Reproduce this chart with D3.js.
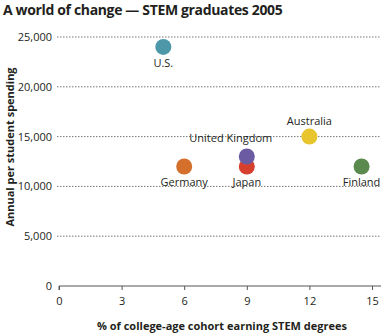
<!DOCTYPE html>
<html>
<head>
<meta charset="utf-8">
<script src="https://cdn.jsdelivr.net/npm/d3@7"></script>
<style>
  body { margin: 0; background: #fff; }
  svg text { font-family: "Open Sans", "Noto Sans", sans-serif; fill: #231f20; }
</style>
</head>
<body>
<div id="chart"></div>
<script>
// Data
const countries = ['U.S.', 'Germany', 'Japan', 'United Kingdom', 'Australia', 'Finland'];
const stemShare = [5, 6, 9, 9, 12, 14.5];
const spending = [24000, 12000, 12000, 13000, 15000, 12000];
const colors = ['#4d98a8', '#d4702c', '#d8402e', '#6b5ba3', '#e8c52c', '#5b8a4e'];
const labelSide = ['below', 'below', 'below', 'above', 'above', 'below'];
const xTicks = [0, 3, 6, 9, 12, 15];
const yTicks = [0, 5000, 10000, 15000, 20000, 25000];

const width = 384, height = 336;
const margin = { top: 37, right: 12, bottom: 50, left: 59 };

const svg = d3.select('#chart').append('svg')
  .attr('width', width)
  .attr('height', height);

const x = d3.scaleLinear().domain([0, 15]).range([margin.left, 372]);
const y = d3.scaleLinear().domain([0, 25000]).range([286, margin.top]);

// Title
svg.append('text')
  .attr('x', 3).attr('y', 15)
  .style('font-size', '14px')
  .style('letter-spacing', '-0.35px')
  .style('font-weight', 'bold')
  .text('A world of change \u2014 STEM graduates 2005');

// Dotted grid lines with labels
const yAxis = svg.append('g')
  .attr('transform', `translate(${margin.left - 2},0)`)
  .call(d3.axisLeft(y).tickValues(yTicks).tickFormat(d3.format(',')).tickSize(0).tickPadding(5));
yAxis.select('.domain').remove();
yAxis.selectAll('text').style('font-size', '11px').style('font-family', '"Open Sans", sans-serif').attr('fill', '#231f20');

svg.append('g').selectAll('line')
  .data(yTicks.filter(d => d > 0))
  .join('line')
  .attr('x1', margin.left - 2).attr('x2', 381)
  .attr('y1', d => y(d)).attr('y2', d => y(d))
  .attr('stroke', '#777')
  .attr('stroke-width', 1)
  .attr('stroke-dasharray', '1.5,1.5');

// X axis
const xAxis = svg.append('g')
  .attr('transform', `translate(0,${y(0)})`)
  .call(d3.axisBottom(x).tickValues(xTicks).tickSize(4).tickPadding(7).tickSizeOuter(0));
xAxis.select('.domain').attr('d', `M${x(0)},4V0H381`).attr('stroke', '#555');
xAxis.selectAll('.tick line').attr('stroke', '#555');
xAxis.selectAll('text').style('font-size', '11px').style('font-family', '"Open Sans", sans-serif').attr('fill', '#231f20');

// Axis titles
svg.append('text')
  .attr('x', 222).attr('y', 330)
  .attr('text-anchor', 'middle')
  .style('font-size', '11px')
  .style('font-weight', 'bold')
  .text('% of college-age cohort earning STEM degrees');

svg.append('text')
  .attr('transform', `translate(14,147) rotate(-90)`)
  .attr('text-anchor', 'middle')
  .style('font-size', '11px')
  .style('font-weight', 'bold')
  .text('Annual per student spending');

// Points
const pts = countries.map((c, i) => ({ name: c, x: stemShare[i], y: spending[i], color: colors[i], side: labelSide[i] }));

svg.append('g').selectAll('circle')
  .data(pts)
  .join('circle')
  .attr('cx', d => x(d.x))
  .attr('cy', d => y(d.y))
  .attr('r', 8)
  .attr('fill', d => d.color);

svg.append('g').selectAll('text')
  .data(pts)
  .join('text')
  .attr('x', d => x(d.x) + (d.name === 'United Kingdom' ? -16 : 0))
  .attr('y', d => d.side === 'below' ? y(d.y) + 20 : y(d.y) - (d.name === 'United Kingdom' ? 15 : 12))
  .attr('text-anchor', 'middle')
  .style('font-size', '11px')
  .text(d => d.name);
</script>
</body>
</html>
